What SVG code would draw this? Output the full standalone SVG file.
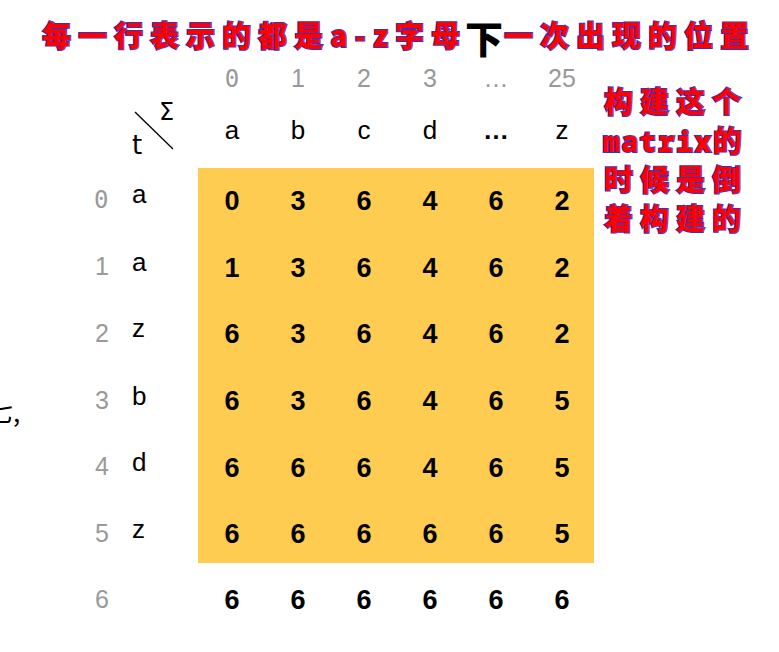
<svg xmlns="http://www.w3.org/2000/svg" width="779" height="652" viewBox="0 0 779 652">
<style>
.note{font-family:"Noto Sans CJK SC",sans-serif;font-weight:900;font-size:29px;fill:#ff0000;stroke:#3333cc;stroke-width:1.8px;paint-order:stroke;letter-spacing:7px}
.mono{font-family:"Noto Sans Mono","DejaVu Sans Mono",monospace;font-weight:900;font-size:28px;fill:#ff0000;stroke:#3333cc;stroke-width:1.8px;paint-order:stroke;letter-spacing:1.5px}
.idx{font-family:"DejaVu Sans Mono",monospace;font-size:24px;fill:#999999;font-weight:300}
.hdr{font-family:"Liberation Sans",sans-serif;font-size:25px;fill:#999999;text-anchor:middle}
.let{font-family:"Liberation Sans",sans-serif;font-size:26px;fill:#000;text-anchor:middle}
.rl{font-family:"Liberation Sans",sans-serif;font-size:26px;fill:#000}
.v{font-family:"Liberation Sans",sans-serif;font-size:27px;font-weight:bold;fill:#000;text-anchor:middle}
</style>
<rect width="779" height="652" fill="#ffffff"/>
<g id="title">
<text class="note" x="42" y="47">每一行表示的都是a-z字母</text>
<text x="465" y="53" font-family="Noto Sans CJK SC,sans-serif" font-weight="900" font-size="38" fill="#000">下</text>
<text class="note" x="504" y="47">一次出现的位置</text>
</g>
<g id="side-note">
<text class="note" x="604" y="113">构建这个</text>
<text x="603" y="152"><tspan class="mono">matrix</tspan><tspan class="note">的</tspan></text>
<text class="note" x="604" y="191">时候是倒</text>
<text class="note" x="604" y="230">着构建的</text>
</g>
<text x="-13" y="422" font-family="Noto Sans CJK SC,sans-serif" font-size="26" fill="#000">七,</text>
<g id="corner">
<line x1="135" y1="112" x2="173" y2="149" stroke="#000" stroke-width="1.3"/>
<text x="159" y="120" font-family="DejaVu Sans,sans-serif" font-size="24" fill="#000">Σ</text>
<text x="132" y="154" font-family="DejaVu Sans,sans-serif" font-size="26" fill="#000">t</text>
</g>
<g id="col-index">
<text class="idx" x="232" y="87" text-anchor="middle">0</text>
<text class="hdr" x="298" y="87">1</text>
<text class="hdr" x="364" y="87">2</text>
<text class="hdr" x="430" y="87">3</text>
<text class="hdr" x="496" y="87">…</text>
<text class="hdr" x="562" y="87">25</text>
</g>
<g id="col-letters">
<text class="let" x="232" y="139">a</text>
<text class="let" x="298" y="139">b</text>
<text class="let" x="364" y="139">c</text>
<text class="let" x="430" y="139">d</text>
<text class="let" x="496" y="139" font-weight="bold">…</text>
<text class="let" x="562" y="139">z</text>
</g>
<g id="row-index">
<text class="idx" x="94" y="208">0</text>
<text class="hdr" x="102" y="275">1</text>
<text class="hdr" x="102" y="342">2</text>
<text class="hdr" x="102" y="409">3</text>
<text class="hdr" x="102" y="475">4</text>
<text class="hdr" x="102" y="542">5</text>
<text class="hdr" x="102" y="608">6</text>
</g>
<g id="row-letters">
<text class="rl" x="132" y="203">a</text>
<text class="rl" x="132" y="271">a</text>
<text class="rl" x="132" y="337">z</text>
<text class="rl" x="132" y="405">b</text>
<text class="rl" x="132" y="471">d</text>
<text class="rl" x="132" y="538">z</text>
</g>
<g id="matrix">
<rect x="198" y="168" width="396" height="395" fill="#fecc50"/>
<g id="r0"><text class="v" x="232" y="210">0</text><text class="v" x="298" y="210">3</text><text class="v" x="364" y="210">6</text><text class="v" x="430" y="210">4</text><text class="v" x="496" y="210">6</text><text class="v" x="562" y="210">2</text></g>
<g id="r1"><text class="v" x="232" y="277">1</text><text class="v" x="298" y="277">3</text><text class="v" x="364" y="277">6</text><text class="v" x="430" y="277">4</text><text class="v" x="496" y="277">6</text><text class="v" x="562" y="277">2</text></g>
<g id="r2"><text class="v" x="232" y="343">6</text><text class="v" x="298" y="343">3</text><text class="v" x="364" y="343">6</text><text class="v" x="430" y="343">4</text><text class="v" x="496" y="343">6</text><text class="v" x="562" y="343">2</text></g>
<g id="r3"><text class="v" x="232" y="410">6</text><text class="v" x="298" y="410">3</text><text class="v" x="364" y="410">6</text><text class="v" x="430" y="410">4</text><text class="v" x="496" y="410">6</text><text class="v" x="562" y="410">5</text></g>
<g id="r4"><text class="v" x="232" y="477">6</text><text class="v" x="298" y="477">6</text><text class="v" x="364" y="477">6</text><text class="v" x="430" y="477">4</text><text class="v" x="496" y="477">6</text><text class="v" x="562" y="477">5</text></g>
<g id="r5"><text class="v" x="232" y="543">6</text><text class="v" x="298" y="543">6</text><text class="v" x="364" y="543">6</text><text class="v" x="430" y="543">6</text><text class="v" x="496" y="543">6</text><text class="v" x="562" y="543">5</text></g>
<g id="r6"><text class="v" x="232" y="609">6</text><text class="v" x="298" y="609">6</text><text class="v" x="364" y="609">6</text><text class="v" x="430" y="609">6</text><text class="v" x="496" y="609">6</text><text class="v" x="562" y="609">6</text></g>
</g>
</svg>
